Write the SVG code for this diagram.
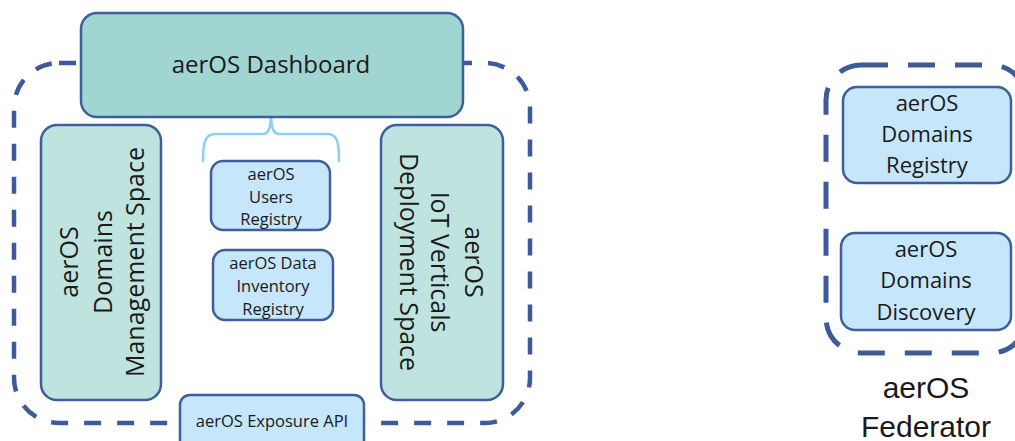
<svg xmlns="http://www.w3.org/2000/svg" width="1015" height="441" viewBox="0 0 1015 441">
<style>
.dash{fill:none;stroke:#3d5b9a;stroke-width:4.5;stroke-dasharray:17 16}
.dash2{fill:none;stroke:#3d5b9a;stroke-width:5;stroke-dasharray:27 20}
.box{stroke:#3f5e9c;stroke-width:2.5}
.dk{fill:#a1d5d1}
.lt{fill:#bfe4df}
.bl{fill:#c5e6fb}
text{font-family:"Open Sans","Liberation Sans",sans-serif;fill:#1a1a1a;text-anchor:middle}
.t16{font-size:16.5px}
.t22{font-size:22px}
.t25{font-size:25px}
.t24{font-size:24px}
.fed{font-family:"Liberation Sans",Arial,sans-serif;font-size:30px}
</style>
<g id="domain-container"><rect class="dash" x="14" y="63" width="516" height="360" rx="45"/></g>
<g id="federator-container"><rect class="dash2" x="826" y="65" width="200" height="288" rx="35"/></g>
<g id="connectors">
<path d="M203,162 C203,145 204,134 215,134 L262,134 C268,134 271,130 271,113 C271,130 274,134 280,134 L328,134 C338,134 339,145 339,162" fill="none" stroke="#8ccff2" stroke-width="2.5"/>
</g>
<g id="dashboard"><rect class="box dk" x="81" y="13" width="382" height="104" rx="16"/><text class="t24" x="271" y="73">aerOS Dashboard</text></g>
<g id="domains-management"><rect class="box lt" x="41" y="125" width="120" height="275" rx="16"/>
<g transform="translate(101,262) rotate(-90)"><text class="t25" x="0" y="-23">aerOS</text><text class="t25" x="0" y="11">Domains</text><text class="t25" x="0" y="43">Management Space</text></g></g>
<g id="iot-verticals"><rect class="box lt" x="381" y="125" width="122" height="275" rx="16"/>
<g transform="translate(442,262) rotate(90)"><text class="t25" x="0" y="-23">aerOS</text><text class="t25" x="0" y="11">IoT Verticals</text><text class="t25" x="0" y="42">Deployment Space</text></g></g>
<g id="users-registry"><rect class="box bl" x="211" y="161" width="119" height="69" rx="12"/><text class="t16" x="271" y="180">aerOS</text><text class="t16" x="271" y="203">Users</text><text class="t16" x="271" y="225">Registry</text></g>
<g id="data-inventory"><rect class="box bl" x="213" y="250" width="120" height="70" rx="12"/><text class="t16" x="273" y="269">aerOS Data</text><text class="t16" x="273" y="292">Inventory</text><text class="t16" x="273" y="315">Registry</text></g>
<g id="exposure-api"><rect class="box bl" x="180" y="395" width="184" height="60" rx="10"/><text class="t16" x="272" y="427">aerOS Exposure API</text></g>
<g id="domains-registry"><rect class="box bl" x="843" y="87" width="168" height="96" rx="14"/><text class="t22" x="927" y="111">aerOS</text><text class="t22" x="927" y="142">Domains</text><text class="t22" x="927" y="173">Registry</text></g>
<g id="domains-discovery"><rect class="box bl" x="841" y="233" width="170" height="97" rx="14"/><text class="t22" x="926" y="257">aerOS</text><text class="t22" x="926" y="288">Domains</text><text class="t22" x="926" y="320">Discovery</text></g>
<g id="federator-label"><text class="fed" x="926" y="398">aerOS</text><text class="fed" x="926" y="437">Federator</text></g>
</svg>
